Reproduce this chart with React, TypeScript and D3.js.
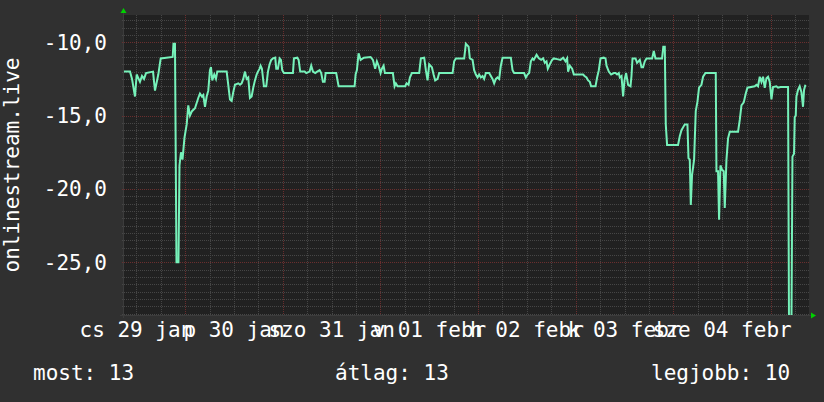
import React from "react";
import * as d3 from "d3";

// hours since 29 Jan 00:00
const hours = [
  8.95, 10.42, 10.92, 11.65, 12.07, 12.88, 13.37, 13.87, 14.36, 16.08, 16.57, 17.38, 17.97, 20.92, 21.11, 21.48,
  21.85, 22.34, 22.59, 22.96, 23.33, 23.82, 24.36, 24.75, 25.17, 25.66, 26.4, 27.21, 27.63, 28.12, 28.44, 28.86,
  29.27, 29.67, 30.08, 30.33, 30.65, 31.14, 31.56, 31.88, 34.19, 34.58, 35.0, 35.42, 35.81, 36.23, 37.04, 37.46,
  37.87, 38.27, 38.69, 39.1, 39.5, 39.91, 40.33, 40.72, 41.14, 41.56, 41.88, 42.3, 42.54, 42.86, 43.35, 43.92,
  44.34, 44.75, 45.15, 45.57, 46.13, 46.38, 46.79, 47.21, 47.53, 47.85, 48.27, 50.48, 50.73, 51.54, 51.88, 52.27,
  53.36, 53.75, 54.58, 54.98, 55.4, 55.96, 56.45, 57.04, 57.43, 57.85, 58.27, 58.52, 61.12, 61.71, 65.64, 65.89,
  66.21, 66.62, 67.12, 67.93, 69.57, 70.14, 70.7, 71.12, 71.54, 72.03, 72.35, 72.77, 73.09, 75.05, 75.47, 75.79,
  76.21, 78.08, 78.42, 78.91, 79.23, 79.72, 81.52, 81.93, 82.75, 83.16, 83.58, 83.97, 84.64, 85.06, 85.45, 86.04,
  86.43, 89.73, 90.12, 90.54, 92.58, 92.99, 93.66, 93.98, 94.64, 95.03, 95.45, 95.87, 96.26, 96.68, 97.1, 97.49,
  97.91, 98.72, 99.55, 99.95, 100.37, 100.78, 101.18, 101.59, 102.01, 104.05, 104.47, 104.86, 107.32, 107.74, 108.16, 108.55,
  108.97, 109.38, 109.7, 110.37, 110.93, 111.5, 111.99, 112.41, 112.82, 113.14, 113.64, 114.2, 114.62, 115.43, 116.27, 116.9,
  117.49, 117.89, 118.13, 118.55, 119.12, 119.53, 121.82, 122.16, 122.65, 123.05, 123.47, 123.78, 124.87, 125.26, 125.68, 126.09,
  126.91, 127.32, 127.57, 128.13, 128.7, 129.36, 129.78, 130.17, 130.59, 130.84, 131.26, 131.65, 131.99, 132.39, 132.88, 133.47,
  133.71, 133.96, 134.7, 135.09, 135.75, 136.17, 136.56, 136.98, 137.4, 138.78, 139.19, 139.61, 141.23, 141.53, 141.9, 142.14,
  142.46, 145.16, 145.58, 146.0, 146.81, 147.47, 147.72, 148.04, 148.29, 148.6, 149.1, 149.51, 149.93, 150.32, 150.91, 151.31,
  151.9, 154.43, 154.6, 154.99, 155.24, 155.58, 155.98, 156.39, 156.64, 157.06, 157.45, 157.87, 159.91, 160.33, 160.74, 161.31,
  161.8, 162.22, 164.01, 164.43, 164.82, 165.24, 165.66, 166.05, 166.47, 166.89, 167.28, 167.7, 168.12, 168.51, 169.34, 169.74,
  170.33, 172.2, 172.44, 173.03, 173.28, 173.67, 173.84, 174.09, 174.26, 174.65, 175.07, 175.49, 175.88, 176.13, 176.47,
];

const values = [
  -12.0, -12.0, -12.5, -13.7, -12.2, -12.7, -12.3, -12.5, -12.1, -12.0, -13.3, -12.2, -11.1, -11.0, -10.1, -10.1,
  -25.0, -25.0, -18.4, -17.5, -18.0, -16.5, -15.6, -14.3, -15.0, -14.7, -14.5, -13.8, -13.5, -13.7, -13.6, -14.4,
  -13.7, -13.3, -11.9, -11.7, -12.6, -12.2, -12.5, -12.0, -12.0, -12.9, -13.9, -14.0, -13.4, -12.9, -12.8, -12.9,
  -12.8, -12.5, -12.0, -12.5, -12.4, -13.8, -13.7, -13.1, -12.6, -12.2, -12.0, -11.8, -11.6, -11.8, -13.0, -13.0,
  -12.0, -11.5, -11.2, -11.1, -11.05, -11.8, -11.8, -11.1, -11.2, -11.9, -12.1, -12.1, -11.1, -11.05, -11.2, -12.0,
  -12.0, -12.1, -12.0, -11.6, -12.0, -12.1, -12.0, -11.9, -12.1, -12.7, -12.7, -12.1, -12.1, -13.0, -13.0, -12.2,
  -11.9, -10.75, -11.2, -11.05, -11.0, -11.2, -11.8, -11.3, -11.6, -12.1, -11.8, -11.6, -12.1, -12.1, -13.0, -12.8,
  -13.0, -13.0, -12.8, -12.9, -12.4, -12.1, -12.1, -11.1, -11.05, -11.9, -12.6, -11.5, -11.7, -12.2, -12.6, -12.5,
  -12.1, -12.1, -11.3, -11.1, -11.1, -10.1, -10.3, -11.1, -11.2, -11.9, -12.2, -12.4, -12.2, -12.4, -12.3, -12.5,
  -12.1, -12.1, -12.5, -12.8, -12.5, -12.4, -12.5, -11.6, -11.05, -11.05, -11.9, -12.1, -12.1, -12.4, -12.2, -12.1,
  -11.3, -11.1, -11.2, -10.85, -11.1, -11.2, -11.1, -11.4, -11.3, -11.8, -11.5, -11.2, -11.1, -11.15, -11.2, -11.05,
  -11.3, -11.1, -12.0, -11.6, -11.8, -12.2, -12.2, -12.3, -12.4, -12.6, -12.7, -13.0, -13.0, -12.4, -11.9, -11.1,
  -11.05, -11.1, -11.6, -12.0, -12.2, -12.1, -12.1, -12.2, -12.1, -12.4, -12.3, -13.7, -12.6, -12.1, -12.9, -13.0,
  -12.3, -11.1, -11.1, -11.4, -11.2, -11.7, -11.7, -11.3, -11.1, -11.1, -10.6, -11.1, -11.1, -10.3, -10.3, -15.6,
  -17.0, -17.0, -16.4, -16.0, -15.6, -15.6, -17.9, -18.0, -21.1, -19.05, -18.0, -14.7, -14.05, -13.1, -12.9, -12.35,
  -12.1, -12.1, -18.8, -18.8, -22.1, -18.4, -18.7, -18.8, -21.3, -18.0, -16.55, -16.1, -16.1, -15.3, -14.3, -14.1,
  -13.5, -13.1, -13.0, -12.9, -13.0, -12.35, -12.7, -12.35, -13.1, -12.45, -12.35, -12.7, -13.9, -13.05, -13.0, -13.1,
  -13.05, -13.05, -29.5, -29.5, -17.8, -17.6, -15.1, -15.0, -13.7, -13.25, -13.0, -13.4, -14.4, -13.25, -12.9,
];

const dayLabels = ["cs 29 jan", "p 30 jan", "szo 31 jan", "v 01 febr", "h 02 febr", "k 03 febr", "sze 04 febr"];
const dayNoonHours = [12, 36, 60, 84, 108, 132, 156];
const yTickValues = [-25, -20, -15, -10];
const yTickLabels = ["-25,0", "-20,0", "-15,0", "-10,0"];
const timeDomain = [8.95, 177.35];
const valueDomain = [-28.6, -8.14];
const yTitle = "onlinestream.live";
const legendItems = ["most: 13", "átlag: 13", "legjobb: 10"];

const W = 824;
const H = 402;
const L = 124, R = 809, T = 15, B = 315;
const FONT = "'DejaVu Sans Mono', monospace";
const FS = 21;

export default function App() {
  const x = d3.scaleLinear().domain(timeDomain).range([L, R]);
  const y = d3.scaleLinear().domain(valueDomain).range([B, T]);
  const pts = hours.map((h, i) => [h, values[i]] as [number, number]);
  const line = d3.line<[number, number]>().x((d) => x(d[0])).y((d) => y(d[1]));

  const minorX = d3.range(Math.ceil(timeDomain[0] / 6) * 6, timeDomain[1], 6);
  const minorY = d3.range(Math.ceil(valueDomain[0] * 2) / 2, valueDomain[1], 0.5);

  const legendX = [33, 335, 651];

  return (
    <div style={{ position: "absolute", left: 0, top: 0 }}>
      <svg width={W} height={H} style={{ display: "block" }}>
        <rect x={0} y={0} width={W} height={H} fill="#303030" />
        <rect x={L} y={T} width={R - L} height={B - T} fill="#212121" />
        <defs>
          <clipPath id="plotclip">
            <rect x={L} y={T} width={R - L} height={B - T} />
          </clipPath>
        </defs>
        {minorY.map((v) => {
          const major = Math.abs(v % 5) < 1e-9;
          return (
            <line key={"gy" + v} x1={L - 2} x2={R} y1={Math.round(y(v)) + 0.5} y2={Math.round(y(v)) + 0.5}
              stroke={major ? "#6a2e2e" : "#464646"} strokeWidth={1} strokeDasharray="1 1" />
          );
        })}
        {minorX.map((h) => {
          const major = h % 24 === 0;
          return (
            <line key={"gx" + h} x1={Math.round(x(h)) + 0.5} x2={Math.round(x(h)) + 0.5} y1={T} y2={B + 2}
              stroke={major ? "#6a2e2e" : "#464646"} strokeWidth={1} strokeDasharray="1 1" />
          );
        })}
        <line x1={L - 4} x2={R + 3} y1={B + 0.5} y2={B + 0.5} stroke="#3c3c3c" />
        <line x1={L - 0.5} x2={L - 0.5} y1={T - 3} y2={B + 3} stroke="#3c3c3c" />
        <path d={line(pts) || ""} fill="none" stroke="#76f2ba" strokeWidth={2} clipPath="url(#plotclip)" />
        <path d={`M${L - 3.5},${T - 2} L${L + 2.5},${T - 2} L${L - 0.5},${T - 7} Z`} fill="#00d000" />
        <path d={`M${R + 2},${B - 2.5} L${R + 2},${B + 3.5} L${R + 7},${B + 0.5} Z`} fill="#00d000" />
        {yTickValues.map((v, i) => (
          <text key={"yl" + v} x={107} y={y(v)} dy="0.36em" textAnchor="end" fill="#ffffff"
            fontFamily={FONT} fontSize={FS}>{yTickLabels[i]}</text>
        ))}
        {dayLabels.map((s, i) => (
          <text key={"xl" + i} x={x(dayNoonHours[i])} y={337} textAnchor="middle" fill="#ffffff"
            fontFamily={FONT} fontSize={FS} style={{ whiteSpace: "pre" }}>{s}</text>
        ))}
        <text transform={`translate(19, ${(T + B) / 2}) rotate(-90)`} textAnchor="middle" fill="#ffffff"
          fontFamily={FONT} fontSize={FS}>{yTitle}</text>
        {legendItems.map((s, i) => (
          <text key={"lg" + i} x={legendX[i]} y={380} fill="#ffffff" fontFamily={FONT} fontSize={FS}>{s}</text>
        ))}
      </svg>
    </div>
  );
}
